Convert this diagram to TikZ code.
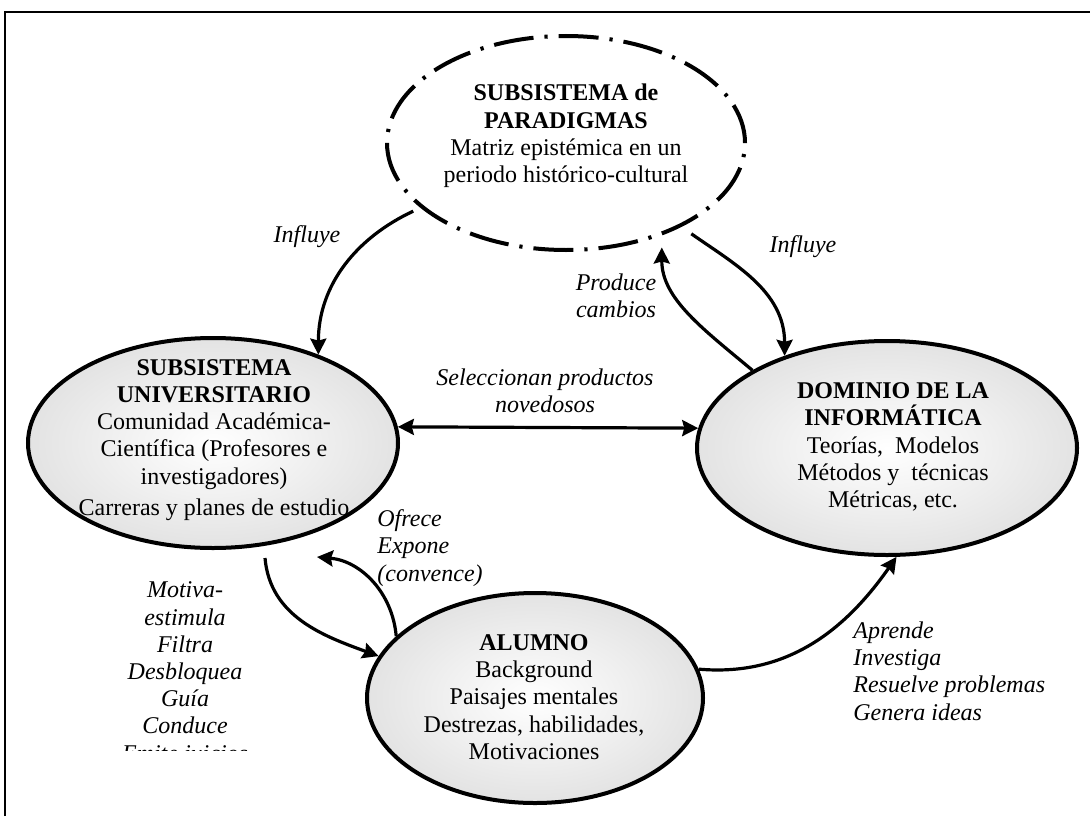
\documentclass[tikz,border=0pt]{standalone}
\usepackage{fontspec}
\setmainfont{Liberation Serif}
\usetikzlibrary{arrows.meta,shapes.geometric,positioning}
\pgfdeclareradialshading{grisradial}{\pgfpoint{0bp}{0bp}}{color(0bp)=(white); color(50bp)=(black!22)}

\begin{document}
\begin{tikzpicture}[x=0.5pt,y=0.5pt,font=\fontsize{12}{13.6}\selectfont,
  >={Stealth[length=8pt,width=8pt,inset=1pt]},
  elipse/.style={draw, ellipse, line width=2pt, shade, shading=grisradial, inner sep=0pt},
  texto/.style={align=center, inner sep=0pt},
  etiq/.style={font=\fontsize{12}{13.6}\selectfont\itshape, inner sep=0pt},
  flecha/.style={line width=1.6pt, ->}]
\useasboundingbox (0,0) rectangle (1090,816);
% marco
\draw[line width=1pt] (5,0) -- (5,804) -- (1090,804);

% elipses
\node[draw, ellipse, line width=2pt, dash pattern=on 20pt off 5.5pt on 1.6pt off 5.5pt, minimum width=179pt, minimum height=107pt] (par) at (566,673) {};
\node[elipse, minimum width=185pt, minimum height=105pt] (uni) at (213,373) {};
\node[elipse, minimum width=190pt, minimum height=107pt] (dom) at (887,368) {};
\node[elipse, minimum width=168pt, minimum height=105pt] (alu) at (535,118) {};

\node[texto] (partxt) at (566,680) {\textbf{SUBSISTEMA de}\\\textbf{PARADIGMAS}\\Matriz epistémica en un\\periodo histórico-cultural};
\node[texto] (unitxt) at (214,376) {\textbf{SUBSISTEMA}\\\textbf{UNIVERSITARIO}\\Comunidad Académica-\\Científica (Profesores e\\investigadores)\\[2pt]Carreras y planes de estudio};
\node[texto] (domtxt) at (893,369) {\textbf{DOMINIO DE LA}\\\textbf{INFORMÁTICA}\\Teorías,~ Modelos\\Métodos y~ técnicas\\Métricas, etc.};
\node[texto] (alutxt) at (534,119) {\textbf{ALUMNO}\\Background\\Paisajes mentales\\Destrezas, habilidades,\\Motivaciones};

% etiquetas
\node[etiq] (infl1) at (307,579) {Influye};
\node[etiq] (infl2) at (803,569) {Influye};
\node[etiq, align=center] (prod) at (616,520) {Produce\\cambios};
\node[etiq, align=center] (sel) at (545,425) {Seleccionan productos\\novedosos};
\node[etiq, align=left, anchor=west] (ofr) at (377,268) {Ofrece\\Expone\\(convence)};
\node[etiq, align=left, anchor=west] (apr) at (853,145) {Aprende\\Investiga\\Resuelve problemas\\Genera ideas};
\begin{scope}
\clip (100,66) rectangle (300,300);
\node[etiq, align=center] (mot) at (185,142) {Motiva-\\estimula\\Filtra\\Desbloquea\\Guía\\Conduce\\Emite juicios};
\end{scope}

\coordinate (motini) at (265,258);
\coordinate (ofrfin) at (317,259);

% flechas
\draw[flecha, shorten <=4pt] (par.204) to[out=205,in=90] (uni.40);
\draw[flecha, shorten <=6pt] (par.-36) to[out=-35,in=90] (dom.138);
\draw[flecha, shorten >=6pt] (dom.150) to[out=140,in=-90] (par.-44);
\draw[line width=1.6pt, <->] (uni.5) -- (dom.174);
\draw[flecha] (motini) to[out=-85,in=160] (alu.165);
\draw[flecha] (alu.156) to[out=95,in=-5] (ofrfin);
\draw[flecha] (alu.10) to[out=-5,in=235] (dom.-85);
\end{tikzpicture}
\end{document}
